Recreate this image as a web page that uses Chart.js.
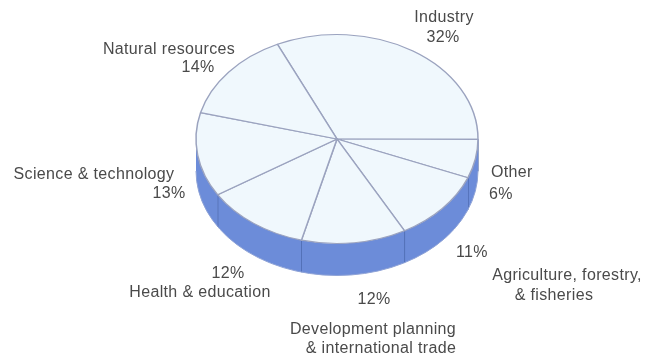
<!DOCTYPE html>
<html>
<head>
<meta charset="utf-8">
<style>
  html, body { margin: 0; padding: 0; background: #ffffff; }
  canvas { display: block; }
</style>
<script src="https://cdn.jsdelivr.net/npm/chart.js@4"></script>
</head>
<body>
<canvas id="chart" width="647" height="358"></canvas>
<script>
// Share of spending by sector, in percent, clockwise from the top-left radius.
const sectors = ['Industry', 'Other', 'Agriculture, forestry, & fisheries',
  'Development planning & international trade', 'Health & education',
  'Science & technology', 'Natural resources'];
const shares = [32, 6, 11, 12, 12, 13, 14];

// Sector names as they are broken across lines.
const nameLines = [['Industry'], ['Other'], ['Agriculture, forestry,', '& fisheries'],
  ['Development planning', '& international trade'], ['Health & education'],
  ['Science & technology'], ['Natural resources']];

// Label anchors: x, middle y, optional alignment.
const nameAnchors = [[[444, 18]], [[491, 173, 'left']], [[567, 276], [554, 296]],
  [[373, 330], [381, 349]], [[200, 293]], [[94, 175]], [[169, 50]]];
const shareAnchors = [[443, 38], [489, 195, 'left'], [472, 253],
  [374, 300], [228, 274], [169, 194], [198, 68]];

const TILT = 104.5 / 141;
const DEPTH = 32;
const FACE = '#f0f8fd';
const SPOKE = '#9ba3bf';
const WALL = '#6c8cd9';
const WALL_EDGE = '#3f5b9c';
const TEXT = '#4a4a4a';

// Extruded side wall below the tilted pie, one segment per slice.
function drawWall(ctx, arcs) {
  ctx.save();
  arcs.forEach(arc => {
    const rx = arc.outerRadius, ry = rx * TILT;
    for (const turn of [-2 * Math.PI, 0, 2 * Math.PI]) {
      const from = Math.max(arc.startAngle + turn, 0);
      const to = Math.min(arc.endAngle + turn, Math.PI);
      if (to <= from) continue;
      ctx.beginPath();
      ctx.ellipse(arc.x, arc.y, rx, ry, 0, from, to);
      ctx.ellipse(arc.x, arc.y + DEPTH, rx, ry, 0, to, from, true);
      ctx.closePath();
      ctx.fillStyle = WALL;
      ctx.fill();
    }
    // Seam where this slice ends, when it faces the viewer.
    const s = Math.sin(arc.endAngle), c = Math.cos(arc.endAngle);
    if (s > 0) {
      ctx.beginPath();
      ctx.moveTo(arc.x + rx * c, arc.y + ry * s);
      ctx.lineTo(arc.x + rx * c, arc.y + ry * s + DEPTH);
      ctx.lineWidth = 1.1;
      ctx.strokeStyle = WALL_EDGE;
      ctx.stroke();
    }
  });
  const a = arcs[0];
  ctx.beginPath();
  ctx.ellipse(a.x, a.y + DEPTH, a.outerRadius, a.outerRadius * TILT, 0, 0, Math.PI);
  ctx.lineWidth = 1;
  ctx.strokeStyle = '#8fa3d6';
  ctx.stroke();
  ctx.restore();
}

const tiltedPie = {
  id: 'tiltedPie',
  beforeDatasetDraw(chart, args) {
    const ctx = chart.ctx;
    const arcs = args.meta.data;
    drawWall(ctx, arcs);
    const cy = arcs[0].y;
    ctx.save();
    ctx.translate(0, cy);
    ctx.scale(1, TILT);
    ctx.translate(0, -cy);
  },
  afterDatasetDraw(chart) {
    chart.ctx.restore();
  }
};

const sectorLabels = {
  id: 'sectorLabels',
  afterDraw(chart) {
    const ctx = chart.ctx;
    ctx.save();
    ctx.font = '16px "Liberation Sans", Arial, sans-serif';
    ctx.letterSpacing = '0.35px';
    ctx.fillStyle = TEXT;
    ctx.textBaseline = 'middle';
    const put = (text, anchor) => {
      ctx.textAlign = anchor[2] || 'center';
      ctx.fillText(text, anchor[0], anchor[1]);
    };
    nameLines.forEach((lines, i) => {
      lines.forEach((line, j) => put(line, nameAnchors[i][j]));
      put(shares[i] + '%', shareAnchors[i]);
    });
    ctx.restore();
  }
};

new Chart(document.getElementById('chart'), {
  type: 'pie',
  data: {
    labels: sectors,
    datasets: [{
      data: shares,
      backgroundColor: FACE,
      borderColor: SPOKE,
      borderWidth: 1.5,
      clip: false
    }]
  },
  options: {
    responsive: false,
    animation: false,
    radius: 141,
    rotation: -25,
    layout: { padding: { left: 27, bottom: 80 } },
    plugins: { legend: { display: false }, tooltip: { enabled: false }, title: { display: false } }
  },
  plugins: [tiltedPie, sectorLabels]
});
</script>
</body>
</html>
